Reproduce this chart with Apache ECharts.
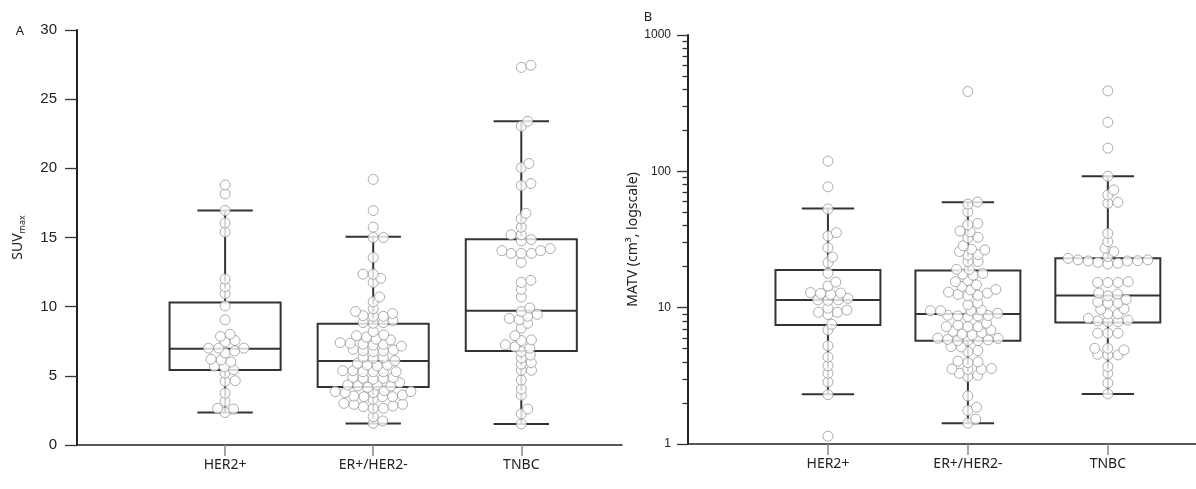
<!DOCTYPE html>
<html><head><meta charset="utf-8">
<script src="https://cdn.jsdelivr.net/npm/echarts@6/dist/echarts.min.js"></script>
<style>html,body{margin:0;padding:0;background:#fff}#c{width:1196px;height:489px}</style>
</head><body><div id="c"></div>
<script>
// ---- data ----
const categories = ['HER2+', 'ER+/HER2-', 'TNBC'];
const suvHER2 = [18.8,18.15,16.95,16.05,15.4,12.0,11.45,10.95,10.05,9.05,8.0,7.85,7.45,7.55,6.65,6.8,7.0,7.0,7.0,6.15,6.2,6.0,5.65,5.7,5.45,5.2,4.6,4.65,3.75,3.15,2.6,2.65,2.35];
const suvER = [19.2,16.95,15.75,15.0,15.0,13.55,12.35,12.35,11.75,12.05,10.7,10.35,9.85,9.5,9.65,9.3,9.3,9.35,8.8,8.85,8.85,9.0,
  8.2,7.8,7.9,7.95,7.6,7.65,7.3,7.28,7.35,7.4,7.22,7.15,6.82,6.75,6.8,6.87,6.92,6.27,6.31,6.34,6.1,5.78,5.71,5.8,5.9,
  5.3,5.37,5.3,5.37,5.3,5.3,4.82,4.82,4.87,4.89,4.75,4.51,4.34,4.27,4.27,4.34,4.17,3.86,3.86,3.79,3.93,3.79,
  3.3,3.49,3.49,3.49,3.61,3.54,2.65,2.65,2.77,2.82,2.94,2.94,3.01,2.05,1.57,1.74];
const suvTNBC = [27.3,27.45,23.4,23.05,20.35,20.05,18.9,18.75,16.75,16.35,15.75,15.2,15.2,14.75,14.85,13.85,13.85,13.85,14.05,14.05,14.2,13.2,
  11.75,11.9,11.25,10.7,9.65,9.9,9.45,9.05,9.15,9.3,8.8,8.45,7.55,7.6,7.9,7.0,7.1,7.25,6.5,6.75,6.3,5.95,5.85,5.4,5.4,4.7,4.05,3.6,2.6,2.25,1.52];
const matvHER2 = [119,77,53,33.5,35.5,27.5,23.5,21.4,17.9,15.4,14.4,12.5,12.8,12.7,12.9,11.3,11.4,11.4,11.7,9.9,8.9,9.25,9.25,9.6,7.55,6.85,5.25,4.35,3.75,3.3,2.85,2.3,1.14];
const matvER = [385,57.5,59.5,50.5,40.5,41.5,36,36.5,32.5,32.8,24.5,26.8,26.5,28.5,25.8,24.3,21.8,21.8,17.6,19.1,19.1,17.8,17.3,15.5,15.8,
  13.5,13.6,14.3,14.7,12.2,12.3,12.5,12.8,13,10.5,10.8,9.5,9.5,9.1,9.5,9.6,8.8,8.7,8.6,8.7,8.75,7.26,7.26,7.26,7.45,7.7,
  6.4,6.55,6.7,6.85,5.73,5.73,5.73,5.8,5.85,5.95,5.97,6.3,5.18,5.15,4.76,4.85,3.95,4.0,4.05,3.53,3.58,3.55,3.53,3.12,3.3,3.2,
  2.25,1.76,1.86,1.52,1.42];
const matvTNBC = [389,229,148,92,73,67,58.3,59.3,35,30.5,25.8,27.3,22.4,23,23.7,22,20.9,21.2,21.5,22,22.1,22.4,15.3,15.3,15.3,15.5,
  12.2,12.6,12.8,11.5,10.8,10.8,11,9.7,9.8,9.0,9.0,7.9,7.9,8.0,8.1,8.35,6.5,6.5,6.5,4.9,5.03,5.03,4.5,4.5,4.55,3.7,3.3,2.8,2.33];
// box stats: [lower whisker, Q1, median, Q3, upper whisker]
const suvBoxHER2 = [2.35, 5.42, 6.95, 10.3, 16.95];
const suvBoxER = [1.55, 4.2, 6.07, 8.77, 15.06];
const suvBoxTNBC = [1.52, 6.8, 9.71, 14.87, 23.4];
const matvBoxHER2 = [2.32, 7.45, 11.4, 18.9, 53.3];
const matvBoxER = [1.42, 5.73, 9.0, 18.7, 59.3];
const matvBoxTNBC = [2.33, 7.8, 12.3, 23, 92];
const matvMajor = [1, 10, 100, 1000];
const matvMinor = [2,3,4,5,6,7,8,9,20,30,40,50,60,70,80,90,200,300,400,500,600,700,800,900];

// ---- chart ----
const chart = echarts.init(document.getElementById('c'), null, {renderer: 'canvas'});
const FONT = 'Noto Sans';
const LINE = '#333';
const BOX_HALF = 0.375, CAP_HALF = 0.187;

function boxItem(params, api) {
  const x = api.value(0);
  const lo = api.coord([x, api.value(1)]), q1 = api.coord([x, api.value(2)]),
        md = api.coord([x, api.value(3)]), q3 = api.coord([x, api.value(4)]), hi = api.coord([x, api.value(5)]);
  const l = api.coord([x - BOX_HALF, api.value(3)])[0], r = api.coord([x + BOX_HALF, api.value(3)])[0];
  const cl = api.coord([x - CAP_HALF, api.value(3)])[0], cr = api.coord([x + CAP_HALF, api.value(3)])[0];
  const st = {stroke: LINE, lineWidth: 2, fill: null};
  return {type: 'group', children: [
    {type: 'rect', shape: {x: l, y: q3[1], width: r - l, height: q1[1] - q3[1]}, style: {stroke: LINE, lineWidth: 2, fill: 'rgba(0,0,0,0)'}},
    {type: 'line', shape: {x1: l, y1: md[1], x2: r, y2: md[1]}, style: st},
    {type: 'line', shape: {x1: lo[0], y1: lo[1], x2: q1[0], y2: q1[1]}, style: st},
    {type: 'line', shape: {x1: q3[0], y1: q3[1], x2: hi[0], y2: hi[1]}, style: st},
    {type: 'line', shape: {x1: cl, y1: lo[1], x2: cr, y2: lo[1]}, style: st},
    {type: 'line', shape: {x1: cl, y1: hi[1], x2: cr, y2: hi[1]}, style: st}
  ]};
}
const boxesA = [suvBoxHER2, suvBoxER, suvBoxTNBC].map((b, i) => [i + 1].concat(b));
const boxesB = [matvBoxHER2, matvBoxER, matvBoxTNBC].map((b, i) => [i + 1].concat(b));
const groupsA = [suvHER2, suvER, suvTNBC];
const groupsB = [matvHER2, matvER, matvTNBC];

function xAxisDef(gi, max) {
  return {
    type: 'value', gridIndex: gi, min: 0, max: max, interval: 1,
    axisLine: {show: true, onZero: false, lineStyle: {color: '#222', width: 1.5}},
    axisTick: {show: true, inside: false, length: 11, lineStyle: {color: '#888', width: 1.5}, customValues: [1, 2, 3]},
    axisLabel: {show: true, margin: 13, fontFamily: FONT, fontSize: 14, color: '#222', customValues: [1, 2, 3],
      formatter: v => categories[Math.round(v) - 1] || ''},
    splitLine: {show: false}
  };
}

const option = {
  animation: false,
  backgroundColor: '#fff',
  grid: [
    {left: 77, top: 30, width: 545, height: 415},
    {left: 688, top: 35, width: 508, height: 409}
  ],
  xAxis: [xAxisDef(0, 3.68), xAxisDef(1, 3.63)],
  yAxis: [
    {type: 'value', gridIndex: 0, min: 0, max: 30, interval: 5,
      name: '{a|SUV}{b|max}', nameLocation: 'middle', nameGap: 50, nameRotate: 90,
      nameTextStyle: {rich: {
        a: {fontFamily: FONT, fontSize: 14, color: '#222', lineHeight: 18},
        b: {fontFamily: FONT, fontSize: 9, color: '#222', lineHeight: 9, verticalAlign: 'bottom'}
      }},
      axisLine: {show: true, lineStyle: {color: '#222', width: 2}},
      axisTick: {show: true, length: 12, lineStyle: {color: '#333', width: 1.3}},
      axisLabel: {margin: 20, fontFamily: 'Liberation Sans', fontSize: 15, color: '#222'},
      splitLine: {show: false}
    },
    {type: 'log', gridIndex: 1, min: 1, max: 1000, logBase: 10,
      name: 'MATV (cm³, logscale)', nameLocation: 'middle', nameGap: 46, nameRotate: 90,
      nameTextStyle: {fontFamily: FONT, fontSize: 14, color: '#222'},
      axisLine: {show: true, lineStyle: {color: '#222', width: 2}},
      axisTick: {show: true, length: 11, lineStyle: {color: '#333', width: 1.3}, customValues: matvMajor},
      axisLabel: {margin: 17, fontFamily: 'Liberation Sans', fontSize: 12, color: '#222', customValues: matvMajor,
        formatter: v => String(Math.round(v))},
      splitLine: {show: false}
    },
    {type: 'log', gridIndex: 1, min: 1, max: 1000, logBase: 10, position: 'left', offset: 0,
      axisLine: {show: false},
      axisTick: {show: true, length: 5.5, lineStyle: {color: '#333', width: 1.3}, customValues: matvMinor},
      axisLabel: {show: false},
      splitLine: {show: false}
    }
  ],
  graphic: [
    {type: 'text', style: {text: 'A', x: 20, y: 31, align: 'center', verticalAlign: 'middle', font: '13px "Noto Sans"', fill: '#222'}},
    {type: 'text', style: {text: 'B', x: 648, y: 17, align: 'center', verticalAlign: 'middle', font: '13px "Noto Sans"', fill: '#222'}}
  ],
  series: [
    {type: 'custom', xAxisIndex: 0, yAxisIndex: 0, renderItem: boxItem, data: boxesA, z: 2, silent: true,
      encode: {x: 0, y: [1, 2, 3, 4, 5]}},
    {type: 'custom', xAxisIndex: 1, yAxisIndex: 1, renderItem: boxItem, data: boxesB, z: 2, silent: true,
      encode: {x: 0, y: [1, 2, 3, 4, 5]}}
  ]
};
chart.setOption(option);

// swarm layout of points (pixel-space elliptical collision avoidance), then back to data x
function swarm(groups, gi) {
  const p0 = chart.convertToPixel({gridIndex: gi}, [0, 1]);
  const p1 = chart.convertToPixel({gridIndex: gi}, [1, 1]);
  const ppu = p1[0] - p0[0];
  const DX = 10.2, DY = 6.2;
  const out = [];
  groups.forEach((vals, gIdx) => {
    const cat = gIdx + 1;
    const pts = vals.map(v => ({v: v, y: chart.convertToPixel({gridIndex: gi}, [cat, v])[1]}));
    pts.sort((a, b) => b.y - a.y);
    const placed = [];
    const need = (q, p) => { const t = (q.y - p.y) / DY; return DX * Math.sqrt(Math.max(0, 1 - t * t)); };
    pts.forEach(p => {
      const near = placed.filter(q => Math.abs(q.y - p.y) < DY);
      const cands = [0];
      near.forEach(q => { const dx = need(q, p); cands.push(q.x + dx, q.x - dx); });
      cands.sort((a, b) => Math.abs(a) - Math.abs(b) || b - a);
      let chosen = 0;
      for (const c of cands) {
        let ok = true;
        for (const q of near) { if (Math.abs(c - q.x) < need(q, p) - 1e-6) { ok = false; break; } }
        if (ok) { chosen = c; break; }
      }
      p.x = chosen;
      placed.push(p);
      out.push([cat + chosen / ppu, p.v]);
    });
  });
  return out;
}
const ptStyle = {color: '#fff', borderColor: '#999', borderWidth: 1};
chart.setOption({series: option.series.concat([
  {type: 'scatter', xAxisIndex: 0, yAxisIndex: 0, data: swarm(groupsA, 0), symbol: 'circle', symbolSize: 10, itemStyle: ptStyle, z: 5, silent: true},
  {type: 'scatter', xAxisIndex: 1, yAxisIndex: 1, data: swarm(groupsB, 1), symbol: 'circle', symbolSize: 10, itemStyle: ptStyle, z: 5, silent: true}
])});
</script></body></html>
